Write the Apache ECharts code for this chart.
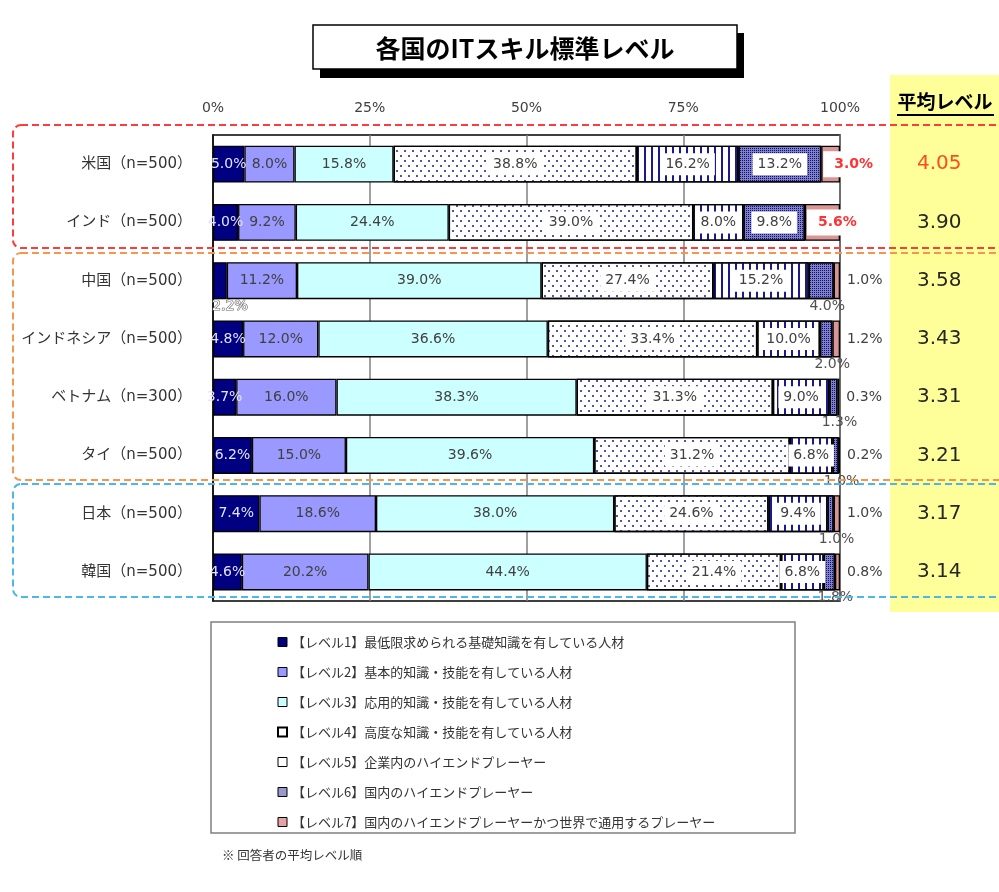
<!DOCTYPE html>
<html><head><meta charset="utf-8">
<script src="https://cdn.jsdelivr.net/npm/echarts@6/dist/echarts.min.js"></script>
<style>html,body{margin:0;padding:0;background:#fff}#c{width:999px;height:892px}</style>
</head><body><div id="c"></div>
<script>
const categories = ['米国（n=500）','インド（n=500）','中国（n=500）','インドネシア（n=500）','ベトナム（n=300）','タイ（n=500）','日本（n=500）','韓国（n=500）'];
const level1 = [5.0, 4.0, 2.2, 4.8, 3.7, 6.2, 7.4, 4.6];
const level2 = [8.0, 9.2, 11.2, 12.0, 16.0, 15.0, 18.6, 20.2];
const level3 = [15.8, 24.4, 39.0, 36.6, 38.3, 39.6, 38.0, 44.4];
const level4 = [38.8, 39.0, 27.4, 33.4, 31.3, 31.2, 24.6, 21.4];
const level5 = [16.2, 8.0, 15.2, 10.0, 9.0, 6.8, 9.4, 6.8];
const level6 = [13.2, 9.8, 4.0, 2.0, 1.3, 1.0, 1.0, 1.8];
const level7 = [3.0, 5.6, 1.0, 1.2, 0.3, 0.2, 1.0, 0.8];
const averageLevel = ['4.05', '3.90', '3.58', '3.43', '3.31', '3.21', '3.17', '3.14'];
const seriesNames = [
  '【レベル1】最低限求められる基礎知識を有している人材',
  '【レベル2】基本的知識・技能を有している人材',
  '【レベル3】応用的知識・技能を有している人材',
  '【レベル4】高度な知識・技能を有している人材',
  '【レベル5】企業内のハイエンドプレーヤー',
  '【レベル6】国内のハイエンドプレーヤー',
  '【レベル7】国内のハイエンドプレーヤーかつ世界で通用するプレーヤー'
];

const levels = [level1, level2, level3, level4, level5, level6, level7];
const NAVY = '#000080';
const itemStyles = [
  {color: NAVY},
  {color: '#9999FF'},
  {color: '#CCFFFF'},
  {color: '#ffffff', decal: {symbol: 'circle', symbolSize: 1, color: '#1a1a8c', dashArrayX: [[2, 6], [0, 4, 2, 2]], dashArrayY: [2, 3]}},
  {color: '#ffffff', decal: {symbol: 'rect', symbolSize: 1, color: '#1a1a8c', dashArrayX: [2, 5], dashArrayY: [4, 0]}},
  {color: '#8080c8', decal: {symbol: 'rect', symbolSize: 1, color: '#10106e', dashArrayX: [1, 1], dashArrayY: [1, 1]}},
  {color: '#d99694'}
];
const legendColors = [NAVY, '#9999FF', '#CCFFFF', '#ffffff', '#ffffff', '#9999cc', '#e6a3a3'];
const fmt = p => Number(p.value).toFixed(1) + '%';
const LBL = {fontFamily: 'DejaVu Sans', fontSize: 14, color: '#404040'};

function itemFor(i, j, v) {
  const d = {value: v};
  if (i === 6) {
    if (j < 2) {
      d.label = {position: 'insideLeft', distance: 0, offset: [2, 0], color: '#FF3333', fontWeight: 'bold', backgroundColor: '#fff', padding: [6, 4, 6, 11]};
    } else {
      d.label = {position: 'right', distance: 7};
    }
  } else if (i === 0 && v < 3) {
    d.label = {position: 'bottom', distance: 0, offset: [10, 0], color: '#fff', textBorderColor: '#666', textBorderWidth: 1.2};
  } else if (i === 5 && v < 5) {
    d.label = {position: 'bottom', distance: 0, offset: [6, 0], color: '#505050', backgroundColor: 'transparent', padding: 0};
  }
  return d;
}

const series = levels.map((arr, i) => ({
  name: seriesNames[i],
  type: 'bar',
  stack: 'all',
  barWidth: 37,
  itemStyle: Object.assign({borderColor: '#000', borderWidth: 1.3}, itemStyles[i]),
  label: Object.assign({show: true, position: 'inside', formatter: fmt}, LBL,
    i === 0 ? {color: '#e4e4ff'} : {},
    (i >= 3 && i <= 5) ? {backgroundColor: '#fff', padding: [4, 5]} : {}),
  data: arr.map((v, j) => itemFor(i, j, v))
}));

const chart = echarts.init(document.getElementById('c'), null, {renderer: 'canvas'});
chart.setOption({
  animation: false,
  backgroundColor: '#fff',
  grid: {left: 213, right: 159, top: 135, bottom: 291, show: true, borderColor: '#000', borderWidth: 1.5, backgroundColor: 'transparent'},
  xAxis: {
    type: 'value', position: 'top', min: 0, max: 100, interval: 25,
    axisLabel: {formatter: '{value}%', fontSize: 14, color: '#404040', fontFamily: 'DejaVu Sans', margin: 20},
    splitLine: {lineStyle: {color: '#808080', width: 1.5}},
    axisLine: {show: false}, axisTick: {show: false}
  },
  yAxis: [
    {
      type: 'category', data: categories, inverse: true,
      axisLine: {lineStyle: {color: '#000', width: 1.5}}, axisTick: {show: false},
      axisLabel: {fontSize: 15, color: '#333', margin: 21, fontFamily: "'DejaVu Sans','Noto Sans CJK JP'"}
    },
    {
      type: 'category', inverse: true, position: 'right',
      data: averageLevel.map((v, i) => ({value: v, textStyle: i === 0 ? {color: '#FF4B1F'} : {}})),
      axisLine: {show: false}, axisTick: {show: false}, splitLine: {show: false},
      axisLabel: {fontSize: 20, color: '#262626', margin: 77, fontFamily: 'DejaVu Sans'}
    }
  ],
  legend: {
    orient: 'vertical', left: 272, top: 629, itemWidth: 9, itemHeight: 9, itemGap: 14, icon: 'rect',
    selectedMode: false,
    textStyle: {fontSize: 13, color: '#333', lineHeight: 16, fontFamily: 'Noto Sans CJK JP'},
    itemStyle: {decal: 'none'},
    data: seriesNames.map((n, i) => ({name: n, itemStyle: {color: legendColors[i], borderColor: '#000', borderWidth: i === 3 ? 2 : 1, decal: 'none'}}))
  },
  graphic: [
    {type: 'rect', z: -10, shape: {x: 890, y: 75, width: 115, height: 537}, style: {fill: '#FFFF99'}},
    {type: 'rect', shape: {x: 320, y: 33, width: 424, height: 45}, style: {fill: '#000'}},
    {type: 'rect', shape: {x: 313, y: 25, width: 424, height: 44}, style: {fill: '#fff', stroke: '#000', lineWidth: 1.5}},
    {type: 'text', x: 525, y: 48, style: {text: '各国のITスキル標準レベル', font: "bold 25px 'Noto Sans CJK JP'", fill: '#000', textAlign: 'center', textVerticalAlign: 'middle'}},
    {type: 'text', x: 945, y: 102, style: {text: '平均レベル', font: "bold 19px 'Noto Sans CJK JP'", fill: '#000', textAlign: 'center', textVerticalAlign: 'middle'}},
    {type: 'line', shape: {x1: 897, y1: 115, x2: 994, y2: 115}, style: {stroke: '#000', lineWidth: 2}},
    {type: 'rect', z: 50, shape: {x: 13, y: 125, width: 1000, height: 123, r: [8, 0, 0, 8]}, style: {fill: null, stroke: '#FF3B3B', lineWidth: 2, lineDash: [7, 4]}},
    {type: 'rect', z: 50, shape: {x: 13, y: 253, width: 1000, height: 227, r: [8, 0, 0, 8]}, style: {fill: null, stroke: '#F5964F', lineWidth: 2, lineDash: [7, 4]}},
    {type: 'rect', z: 50, shape: {x: 13, y: 484, width: 1000, height: 113, r: [8, 0, 0, 8]}, style: {fill: null, stroke: '#4DB8E8', lineWidth: 2, lineDash: [7, 4]}},
    {type: 'rect', shape: {x: 211, y: 622, width: 584, height: 211}, style: {fill: null, stroke: '#808080', lineWidth: 1.5}},
    {type: 'text', x: 222, y: 855, style: {text: '※ 回答者の平均レベル順', font: "12.5px 'Noto Sans CJK JP'", fill: '#333', textVerticalAlign: 'middle'}}
  ],
  series: series
});
</script></body></html>
